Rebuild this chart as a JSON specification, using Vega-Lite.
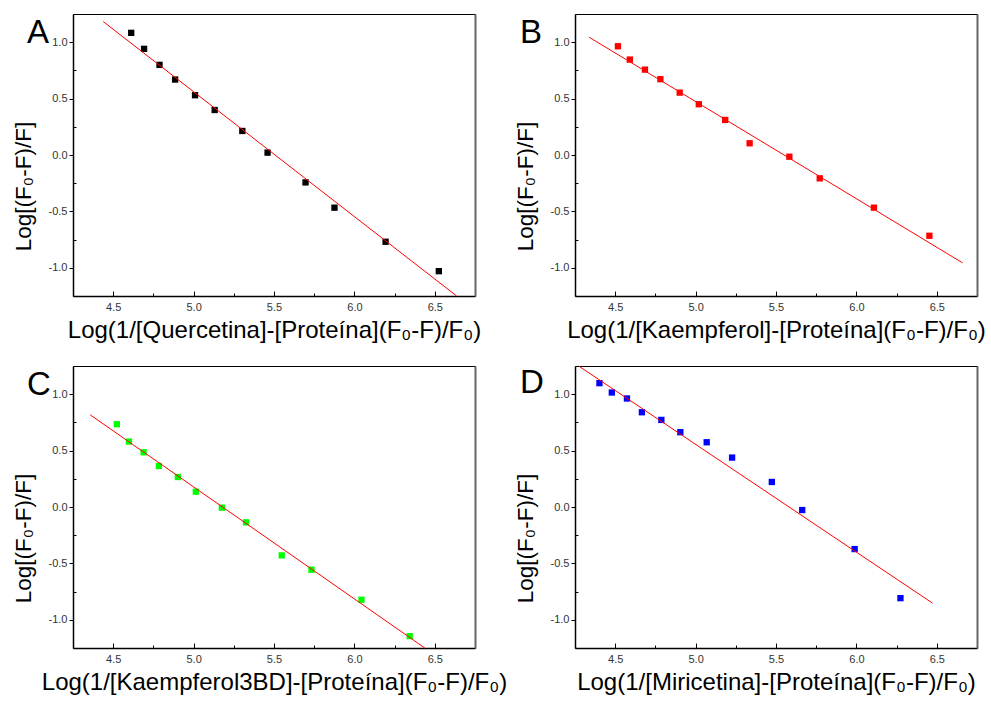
{
  "$schema": "https://vega.github.io/schema/vega-lite/v6.json",
  "background": "white",
  "padding": {"left": 11, "top": 13, "right": 0, "bottom": 0},
  "bounds": "flush",
  "spacing": {"row": 70, "column": 100},
  "columns": 2,
  "data": {"values": [
    {"p":"A","t":"pt","x":4.612,"y":1.083},{"p":"A","t":"pt","x":4.692,"y":0.941},{"p":"A","t":"pt","x":4.788,"y":0.799},{"p":"A","t":"pt","x":4.885,"y":0.669},{"p":"A","t":"pt","x":5.009,"y":0.530},{"p":"A","t":"pt","x":5.131,"y":0.399},{"p":"A","t":"pt","x":5.303,"y":0.213},{"p":"A","t":"pt","x":5.460,"y":0.021},{"p":"A","t":"pt","x":5.696,"y":-0.243},{"p":"A","t":"pt","x":5.876,"y":-0.467},{"p":"A","t":"pt","x":6.194,"y":-0.769},{"p":"A","t":"pt","x":6.525,"y":-1.030},
    {"p":"A","t":"fit","x":4.438,"y":1.183},{"p":"A","t":"fit","x":6.635,"y":-1.249},
    {"p":"B","t":"pt","x":4.517,"y":0.964},{"p":"B","t":"pt","x":4.591,"y":0.846},{"p":"B","t":"pt","x":4.685,"y":0.757},{"p":"B","t":"pt","x":4.781,"y":0.672},{"p":"B","t":"pt","x":4.901,"y":0.553},{"p":"B","t":"pt","x":5.020,"y":0.450},{"p":"B","t":"pt","x":5.184,"y":0.311},{"p":"B","t":"pt","x":5.336,"y":0.104},{"p":"B","t":"pt","x":5.583,"y":-0.015},{"p":"B","t":"pt","x":5.772,"y":-0.207},{"p":"B","t":"pt","x":6.109,"y":-0.467},{"p":"B","t":"pt","x":6.454,"y":-0.716},
    {"p":"B","t":"fit","x":4.338,"y":1.044},{"p":"B","t":"fit","x":6.660,"y":-0.956},
    {"p":"C","t":"pt","x":4.523,"y":0.734},{"p":"C","t":"pt","x":4.598,"y":0.580},{"p":"C","t":"pt","x":4.689,"y":0.485},{"p":"C","t":"pt","x":4.784,"y":0.364},{"p":"C","t":"pt","x":4.902,"y":0.266},{"p":"C","t":"pt","x":5.014,"y":0.136},{"p":"C","t":"pt","x":5.176,"y":-0.006},{"p":"C","t":"pt","x":5.326,"y":-0.136},{"p":"C","t":"pt","x":5.548,"y":-0.429},{"p":"C","t":"pt","x":5.733,"y":-0.556},{"p":"C","t":"pt","x":6.044,"y":-0.822},{"p":"C","t":"pt","x":6.344,"y":-1.145},
    {"p":"C","t":"fit","x":4.357,"y":0.817},{"p":"C","t":"fit","x":6.438,"y":-1.250},
    {"p":"D","t":"pt","x":4.402,"y":1.098},{"p":"D","t":"pt","x":4.479,"y":1.015},{"p":"D","t":"pt","x":4.573,"y":0.962},{"p":"D","t":"pt","x":4.666,"y":0.840},{"p":"D","t":"pt","x":4.787,"y":0.772},{"p":"D","t":"pt","x":4.905,"y":0.663},{"p":"D","t":"pt","x":5.069,"y":0.574},{"p":"D","t":"pt","x":5.227,"y":0.438},{"p":"D","t":"pt","x":5.474,"y":0.222},{"p":"D","t":"pt","x":5.663,"y":-0.027},{"p":"D","t":"pt","x":5.989,"y":-0.373},{"p":"D","t":"pt","x":6.274,"y":-0.808},
    {"p":"D","t":"fit","x":4.274,"y":1.249},{"p":"D","t":"fit","x":6.473,"y":-0.852}
  ]},
  "concat": [
    {
      "title": {"text": "A", "dx": -46, "dy": 40},
      "width": 402, "height": 282,
      "transform": [{"filter": "datum.p === 'A'"}],
      "resolve": {"axis": {"y": "independent"}},
      "layer": [
        {"transform": [{"filter": "datum.t === 'pt'"}],
         "mark": {"type": "square", "size": 40, "opacity": 1, "color": "#000000"},
         "encoding": {
           "x": {"field": "x", "type": "quantitative", "scale": {"domain": [4.25, 6.75], "nice": false, "zero": false},
                 "axis": {"title": "Log(1/[Quercetina]-[Proteína](F₀-F)/F₀)", "titlePadding": 6, "values": [4.5,4.75,5,5.25,5.5,5.75,6,6.25,6.5], "labelExpr": "(datum.value*2)%1===0 ? replace(format(datum.value,'.1f'),'−','-') : ''", "tickSize": {"condition": {"test": "(datum.value*2)%1===0", "value": -5}, "value": -3}, "labelPadding": 10}},
           "y": {"field": "y", "type": "quantitative", "scale": {"domain": [-1.25, 1.25], "nice": false, "zero": false},
                 "axis": {"title": "Log[(F₀-F)/F]", "titleFontSize": 22.5, "titleX": -38, "titleY": 172, "values": [-1,-0.75,-0.5,-0.25,0,0.25,0.5,0.75,1], "labelExpr": "(datum.value*2)%1===0 ? replace(format(datum.value,'.1f'),'−','-') : ''", "tickSize": {"condition": {"test": "(datum.value*2)%1===0", "value": 4}, "value": -3}, "labelPadding": 2}}
         }},
        {"transform": [{"filter": "datum.t === 'fit'"}],
         "mark": {"type": "line", "color": "#ff0000", "strokeWidth": 1},
         "encoding": {
           "x": {"field": "x", "type": "quantitative"},
           "y": {"field": "y", "type": "quantitative", "axis": {"orient": "right", "labels": false, "ticks": false, "title": null, "domainColor": "#666666", "domainWidth": 2}}
         }}
      ]
    },
    {
      "title": {"text": "B", "dx": -55, "dy": 40},
      "width": 402, "height": 282,
      "transform": [{"filter": "datum.p === 'B'"}],
      "resolve": {"axis": {"y": "independent"}},
      "layer": [
        {"transform": [{"filter": "datum.t === 'pt'"}],
         "mark": {"type": "square", "size": 40, "opacity": 1, "color": "#ff0000"},
         "encoding": {
           "x": {"field": "x", "type": "quantitative", "scale": {"domain": [4.25, 6.75], "nice": false, "zero": false},
                 "axis": {"title": "Log(1/[Kaempferol]-[Proteína](F₀-F)/F₀)", "titlePadding": 6, "values": [4.5,4.75,5,5.25,5.5,5.75,6,6.25,6.5], "labelExpr": "(datum.value*2)%1===0 ? replace(format(datum.value,'.1f'),'−','-') : ''", "tickSize": {"condition": {"test": "(datum.value*2)%1===0", "value": -5}, "value": -3}, "labelPadding": 10}},
           "y": {"field": "y", "type": "quantitative", "scale": {"domain": [-1.25, 1.25], "nice": false, "zero": false},
                 "axis": {"title": "Log[(F₀-F)/F]", "titleFontSize": 22.5, "titleX": -38, "titleY": 172, "values": [-1,-0.75,-0.5,-0.25,0,0.25,0.5,0.75,1], "labelExpr": "(datum.value*2)%1===0 ? replace(format(datum.value,'.1f'),'−','-') : ''", "tickSize": {"condition": {"test": "(datum.value*2)%1===0", "value": 4}, "value": -3}, "labelPadding": 2}}
         }},
        {"transform": [{"filter": "datum.t === 'fit'"}],
         "mark": {"type": "line", "color": "#ff0000", "strokeWidth": 1},
         "encoding": {
           "x": {"field": "x", "type": "quantitative"},
           "y": {"field": "y", "type": "quantitative", "axis": {"orient": "right", "labels": false, "ticks": false, "title": null, "domainColor": "#666666", "domainWidth": 2}}
         }}
      ]
    },
    {
      "title": {"text": "C", "dx": -46, "dy": 40},
      "width": 402, "height": 282,
      "transform": [{"filter": "datum.p === 'C'"}],
      "resolve": {"axis": {"y": "independent"}},
      "layer": [
        {"transform": [{"filter": "datum.t === 'pt'"}],
         "mark": {"type": "square", "size": 40, "opacity": 1, "color": "#00ff00"},
         "encoding": {
           "x": {"field": "x", "type": "quantitative", "scale": {"domain": [4.25, 6.75], "nice": false, "zero": false},
                 "axis": {"title": "Log(1/[Kaempferol3BD]-[Proteína](F₀-F)/F₀)", "titlePadding": 6, "values": [4.5,4.75,5,5.25,5.5,5.75,6,6.25,6.5], "labelExpr": "(datum.value*2)%1===0 ? replace(format(datum.value,'.1f'),'−','-') : ''", "tickSize": {"condition": {"test": "(datum.value*2)%1===0", "value": -5}, "value": -3}, "labelPadding": 10}},
           "y": {"field": "y", "type": "quantitative", "scale": {"domain": [-1.25, 1.25], "nice": false, "zero": false},
                 "axis": {"title": "Log[(F₀-F)/F]", "titleFontSize": 22.5, "titleX": -38, "titleY": 172, "values": [-1,-0.75,-0.5,-0.25,0,0.25,0.5,0.75,1], "labelExpr": "(datum.value*2)%1===0 ? replace(format(datum.value,'.1f'),'−','-') : ''", "tickSize": {"condition": {"test": "(datum.value*2)%1===0", "value": 4}, "value": -3}, "labelPadding": 2}}
         }},
        {"transform": [{"filter": "datum.t === 'fit'"}],
         "mark": {"type": "line", "color": "#ff0000", "strokeWidth": 1},
         "encoding": {
           "x": {"field": "x", "type": "quantitative"},
           "y": {"field": "y", "type": "quantitative", "axis": {"orient": "right", "labels": false, "ticks": false, "title": null, "domainColor": "#666666", "domainWidth": 2}}
         }}
      ]
    },
    {
      "title": {"text": "D", "dx": -55, "dy": 40},
      "width": 402, "height": 282,
      "transform": [{"filter": "datum.p === 'D'"}],
      "resolve": {"axis": {"y": "independent"}},
      "layer": [
        {"transform": [{"filter": "datum.t === 'pt'"}],
         "mark": {"type": "square", "size": 40, "opacity": 1, "color": "#0000ff"},
         "encoding": {
           "x": {"field": "x", "type": "quantitative", "scale": {"domain": [4.25, 6.75], "nice": false, "zero": false},
                 "axis": {"title": "Log(1/[Miricetina]-[Proteína](F₀-F)/F₀)", "titlePadding": 6, "values": [4.5,4.75,5,5.25,5.5,5.75,6,6.25,6.5], "labelExpr": "(datum.value*2)%1===0 ? replace(format(datum.value,'.1f'),'−','-') : ''", "tickSize": {"condition": {"test": "(datum.value*2)%1===0", "value": -5}, "value": -3}, "labelPadding": 10}},
           "y": {"field": "y", "type": "quantitative", "scale": {"domain": [-1.25, 1.25], "nice": false, "zero": false},
                 "axis": {"title": "Log[(F₀-F)/F]", "titleFontSize": 22.5, "titleX": -38, "titleY": 172, "values": [-1,-0.75,-0.5,-0.25,0,0.25,0.5,0.75,1], "labelExpr": "(datum.value*2)%1===0 ? replace(format(datum.value,'.1f'),'−','-') : ''", "tickSize": {"condition": {"test": "(datum.value*2)%1===0", "value": 4}, "value": -3}, "labelPadding": 2}}
         }},
        {"transform": [{"filter": "datum.t === 'fit'"}],
         "mark": {"type": "line", "color": "#ff0000", "strokeWidth": 1},
         "encoding": {
           "x": {"field": "x", "type": "quantitative"},
           "y": {"field": "y", "type": "quantitative", "axis": {"orient": "right", "labels": false, "ticks": false, "title": null, "domainColor": "#666666", "domainWidth": 2}}
         }}
      ]
    }
  ],
  "config": {
    "font": "Liberation Sans",
    "view": {"stroke": "#000000", "strokeWidth": 1},
    "axis": {"grid": false, "domainColor": "#000000", "domainWidth": 1.5, "tickColor": "#000000", "tickWidth": 1,
             "labelFont": "Liberation Sans", "labelFontSize": 11, "labelColor": "#333333",
             "titleFont": "Liberation Sans", "titleFontSize": 24, "titleFontWeight": "normal", "titleColor": "#000000"},
    "title": {"font": "Liberation Sans", "fontSize": 33, "fontWeight": "normal", "color": "#000000", "anchor": "start", "frame": "group", "orient": "top", "offset": 0, "baseline": "alphabetic"}
  }
}
